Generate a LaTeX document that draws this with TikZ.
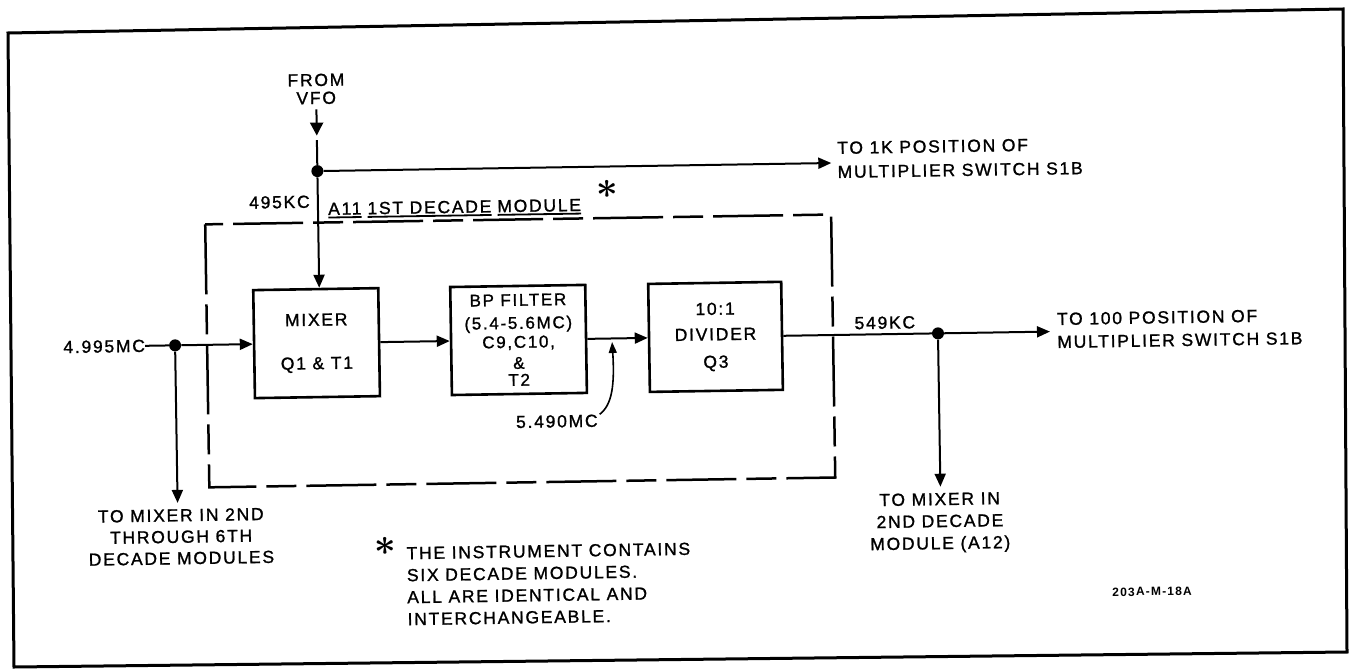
\documentclass[tikz,border=0pt]{standalone}
\usepackage{fontspec}
\usepackage{bm}
\setmainfont{Liberation Sans}[LetterSpace=10, FakeBold=1.2]
\newfontfamily\codefont{Liberation Sans Bold}[LetterSpace=10]
\usetikzlibrary{arrows.meta}
\tikzset{
  lbl/.style={inner sep=0pt, align=center, font=\fontsize{17.5}{22.5}\selectfont},
  blk/.style={lbl, draw, line width=2.6pt, minimum height=108pt},
  sig/.style={line width=2pt},
  arr/.style={sig, -{Triangle[length=13pt,width=11pt]}},
  jdot/.style={circle, fill=black, inner sep=0pt, minimum size=12pt},
  modbox/.style={line width=2.5pt, dash pattern=on 70pt off 10pt on 30pt off 10pt},
  starlbl/.style={inner sep=0pt, font=\fontsize{17.5}{20}\selectfont},
}
\newcommand{\bigast}{\scalebox{2.2}{$\bm{\ast}$}}
\newcommand{\thickul}[1]{\setbox0\hbox{#1}\rlap{\rule[-3.5pt]{\wd0}{1.8pt}}\box0}
\begin{document}
\begin{tikzpicture}[x=1pt,y=-1pt]
\useasboundingbox (0,0) rectangle (1349,669);
\fill[white] (0,0) rectangle (1349,669);
\draw[line width=3pt, line join=miter] (8,33) -- (1343,9) -- (1347,652) -- (14,667) -- cycle;
\begin{scope}[rotate around={0.9:(675,335)}, transform shape]
% blocks
\node[blk, minimum width=125pt] (mix) at (316.5,337.5) {MIXER\\[21pt]Q1 \& T1};
\node[blk, minimum width=135pt, font=\fontsize{17}{21}\selectfont] (bp) at (518.5,337.5) {BP FILTER\\[2pt](5.4-5.6MC)\\[-2pt]C9,C10,\\\&\\[-4pt]T2};
\node[blk, minimum width=133pt] (div) at (715.5,337.5) {10:1\\[3pt]DIVIDER\\[5pt]Q3};
% module outline
\draw[modbox] (207,217) rectangle (833,480);
\node[lbl, anchor=base west] (mlab) at (330,209.5) {\thickul{A11}\hspace{6pt}\thickul{1ST DECADE}\hspace{6pt}\thickul{MODULE}};
\node[starlbl] (s1) at (610,188) {\bigast};
% VFO input
\node[lbl] (vfo) at (320,83.4) {FROM\\[-4.5pt]VFO};
\node[jdot] (d1) at (320,165.5) {};
\coordinate (vtip) at (320,130);
\coordinate (vres) at (320,134.5);
\draw[sig, -{Triangle[length=13pt,width=13pt]}] ([yshift=-5pt]vfo.south) -- (vtip);
\draw[sig] (vres) -- (d1);
\draw[arr] (d1) -- (d1 |- mix.north);
\node[lbl, anchor=west, align=left] (tok) at (840,162.5) {TO 1K POSITION OF\\[1.5pt]MULTIPLIER SWITCH S1B};
\draw[arr, shorten >=6pt] (d1) -- (d1 -| tok.west);
\node[lbl, anchor=east] (k495) at (312,196) {495KC};
% main input
\node[lbl, anchor=east] (fin) at (145,337.5) {4.995MC};
\node[jdot] (d2) at (175,337.5) {};
\draw[sig] (fin.east) -- (d2);
\draw[arr] (d2) -- (mix.west);
\node[lbl] (tmx) at (178,529) {TO MIXER IN 2ND\\[-1pt]THROUGH 6TH\\[-1pt]DECADE MODULES};
\draw[arr, shorten >=6pt] (d2) -- (d2 |- tmx.north);
% chain
\draw[arr] (mix.east) -- (bp.west);
\draw[arr] (bp.east) -- (div.west);
\node[jdot] (d3) at (938,337.5) {};
\draw[sig] (div.east) -- (d3);
\node[lbl] (k549) at (885,326) {549KC};
\node[lbl, anchor=west, align=left] (to100) at (1057,336.5) {TO 100 POSITION OF\\[0.5pt]MULTIPLIER SWITCH S1B};
\draw[arr, shorten >=7pt] (d3) -- (d3 -| to100.west);
\node[lbl] (tmx2) at (937,527) {TO MIXER IN\\[-0.5pt]2ND DECADE\\[-0.5pt]MODULE (A12)};
\draw[arr, shorten >=6pt] (d3) -- (d3 |- tmx2.north);
% 5.490MC pointer
\node[lbl] (f549) at (555.5,419.5) {5.490MC};
\coordinate (ctip) at (612,341);
\draw[line width=1.6pt, -{Triangle[length=11pt,width=8pt]}] ([xshift=2pt]f549.north east) .. controls (611,404) and (614,384) .. (ctip);
% note
\node[starlbl] (s2) at (382,542) {\bigast};
\node[lbl, anchor=west, align=left] (note) at (403,582) {THE INSTRUMENT CONTAINS\\[-0.5pt]SIX DECADE MODULES.\\[-0.5pt]ALL ARE IDENTICAL AND\\[-0.5pt]INTERCHANGEABLE.};
\node[inner sep=0pt, font=\codefont\fontsize{12}{14}\selectfont] (code) at (1148,599) {203A-M-18A};
\end{scope}
\end{tikzpicture}
\end{document}
